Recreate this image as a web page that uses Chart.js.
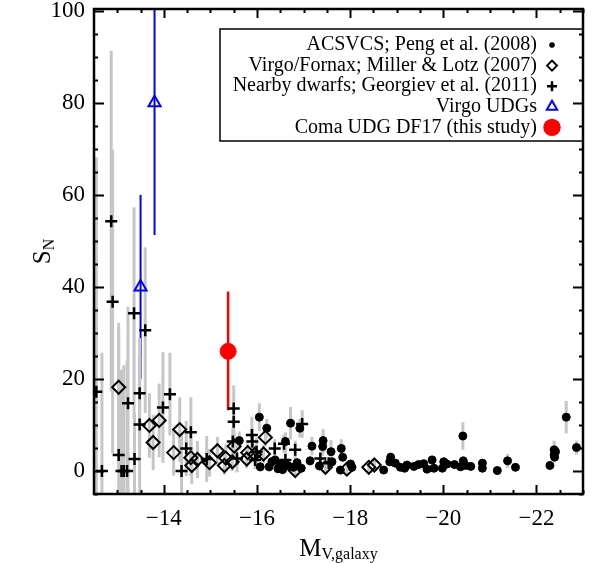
<!DOCTYPE html>
<html>
<head>
<meta charset="utf-8">
<script src="https://cdn.jsdelivr.net/npm/chart.js@4.4.1/dist/chart.umd.min.js"></script>
<style>
  html, body { margin: 0; padding: 0; background: #fff; }
  canvas { display: block; }
</style>
</head>
<body>
<canvas id="grafico" width="592" height="563"></canvas>
<script>
// tick labels
const xTicks = [-14, -16, -18, -20, -22];
const yTicks = [0, 20, 40, 60, 80, 100];

// ACSVCS; Peng et al. (2008)
const acsMv = [-15.62, -16.05, -16.21, -16.07, -16.26, -16.32, -16.39, -16.45, -16.50, -16.55,
  -16.61, -16.66, -16.72, -16.78, -16.86, -16.92, -16.95, -17.14, -17.18, -17.34,
  -17.41, -17.42, -17.59, -17.61, -17.79, -17.81, -17.84, -18.01, -18.04, -18.72,
  -18.85, -18.87, -18.97, -19.08, -19.17, -19.22, -19.37, -19.47, -19.58, -19.65,
  -19.76, -19.80, -19.98, -20.01, -20.08, -20.24, -20.37, -20.42, -20.43, -20.48,
  -20.59, -20.84, -20.84, -21.16, -21.38, -21.55, -22.29, -22.38, -22.41, -22.38,
  -22.39, -22.64, -22.86];
const acsSn = [6.6, 11.7, 9.3, 0.9, 0.9, 2.0, 2.4, 0.5, 1.5, 0.3,
  6.4, 1.2, 10.4, 0.8, 1.8, 9.3, 0.6, 2.2, 5.4, 1.1,
  5.3, 6.6, 4.2, 2.0, 0.2, 4.9, 3.0, 1.5, 0.8, 0.2,
  2.0, 3.0, 1.7, 0.8, 0.6, 1.3, 1.0, 1.4, 1.6, 0.4,
  2.4, 0.6, 0.6, 2.0, 1.5, 1.4, 0.9, 7.6, 2.2, 1.2,
  1.0, 1.7, 0.6, 0.1, 2.2, 0.8, 1.2, 4.6, 4.2, 3.5,
  3.0, 11.7, 5.1];
const acsErr = [2, 3, 2, 1, 1, 1, 1, 1, 1, 1,
  2, 1, 3.5, 1, 1, 2, 1, 1, 2, 1,
  2, 2.5, 2.5, 1, 1, 2, 1, 1, 1, 0.5,
  1, 1, 0.5, 0.5, 0.5, 0.5, 0.5, 0.5, 0.5, 0.5,
  1, 0.5, 0.5, 1, 0.5, 0.5, 0.5, 3, 1, 0.5,
  0.5, 0.5, 0.5, 0.5, 1.5, 0.5, 0.5, 2, 1, 1,
  1, 3.5, 1.5];

// Virgo/Fornax; Miller & Lotz (2007)
const mlMv = [-13.03, -13.69, -13.90, -13.77, -14.34, -14.21, -14.58, -14.72, -14.60, -14.98,
  -15.15, -15.33, -15.30, -15.47, -15.51, -15.80, -15.78, -15.95, -16.14, -16.18,
  -16.82, -17.47, -17.93, -18.40, -18.52];
const mlSn = [18.2, 9.9, 11.0, 6.2, 9.0, 4.0, 2.9, 2.5, 1.2, 1.8,
  4.4, 2.8, 1.2, 2.0, 5.4, 4.0, 2.6, 3.6, 3.7, 7.3,
  0.1, 0.8, 0.4, 0.8, 1.3];
const mlErr = [14, 7, 8, 6, 7, 5, 4, 4, 4, 3,
  3, 3, 2, 2, 3, 2, 2, 2, 2, 2,
  1, 1, 1, 1, 1];

// Nearby dwarfs; Georgiev et al. (2011)
const geoMv = [-12.55, -12.67, -12.87, -12.90, -13.03, -13.09, -13.14, -13.21, -13.23, -13.36,
  -13.37, -13.48, -13.48, -13.60, -13.98, -14.13, -14.38, -14.48, -14.58, -14.92,
  -15.48, -15.50, -15.50, -15.57, -15.89, -15.90, -15.96, -15.99, -16.38, -16.58,
  -16.61, -16.82, -16.97, -17.36, -17.54];
const geoSn = [17.2, 0, 54.3, 36.8, 3.5, 0, 0, 0, 14.7, 34.3,
  2.6, 16.9, 10.1, 30.6, 13.8, 16.7, 0, 4.9, 8.4, 2.6,
  6.4, 10.7, 13.6, 2.7, 7.8, 6.4, 2.4, 4.2, 4.9, 5.9,
  2.4, 4.6, 10.2, 2.7, 1.7];
const geoErr = [51, 25.7, 37, 33, 27, 22, 23, 24, 21, 23,
  10, 12, 15, 18, 12, 9, 8, 6, 7.6, 5,
  3, 3, 5, 3, 4, 3, 2, 3, 2, 2,
  2, 2, 3, 1, 1];

// Virgo UDGs
const udgMv = [-13.50, -13.80];
const udgSn = [40, 80];
const udgErrLo = [20, 28.7];
const udgErrHi = [20, 32];

// Coma UDG DF17 (this study)
const df17Mv = [-15.38];
const df17Sn = [26];
const df17ErrLo = [12.8];
const df17ErrHi = [13];

function pts(xs, ys) {
  return xs.map((v, i) => ({ x: v, y: ys[i] }));
}

const serif = '"Liberation Serif", "Times New Roman", serif';

// error bars under the markers
const errorBars = {
  id: 'errorBars',
  beforeDatasetsDraw(chart) {
    const { ctx, chartArea: a, scales: { x, y } } = chart;
    ctx.save();
    ctx.beginPath();
    ctx.rect(a.left, a.top, a.right - a.left, a.bottom - a.top);
    ctx.clip();
    const list = chart.data.datasets.slice().reverse();
    list.forEach(ds => {
      if (!ds.errLo) return;
      ctx.strokeStyle = ds.errColor;
      ctx.lineWidth = ds.errWidth;
      ds.data.forEach((p, i) => {
        const px = x.getPixelForValue(p.x);
        ctx.beginPath();
        ctx.moveTo(px, y.getPixelForValue(p.y - ds.errLo[i]));
        ctx.lineTo(px, y.getPixelForValue(p.y + ds.errHi[i]));
        ctx.stroke();
      });
    });
    ctx.restore();
  }
};

function drawSymbol(ctx, ds, cx, cy, r) {
  ctx.save();
  ctx.lineWidth = ds.borderWidth;
  ctx.strokeStyle = ds.borderColor;
  ctx.fillStyle = ds.backgroundColor;
  ctx.beginPath();
  if (ds.pointStyle === 'circle') {
    ctx.arc(cx, cy, r, 0, Math.PI * 2);
    ctx.fill();
  } else if (ds.pointStyle === 'rectRot') {
    ctx.moveTo(cx - r, cy); ctx.lineTo(cx, cy - r); ctx.lineTo(cx + r, cy); ctx.lineTo(cx, cy + r);
    ctx.closePath();
    ctx.stroke();
  } else if (ds.pointStyle === 'cross') {
    ctx.moveTo(cx - r, cy); ctx.lineTo(cx + r, cy);
    ctx.moveTo(cx, cy - r); ctx.lineTo(cx, cy + r);
    ctx.stroke();
  } else if (ds.pointStyle === 'triangle') {
    for (let k = 0; k < 3; k++) {
      const ang = k * 2 * Math.PI / 3;
      const px = cx + Math.sin(ang) * r, py = cy - Math.cos(ang) * r;
      k === 0 ? ctx.moveTo(px, py) : ctx.lineTo(px, py);
    }
    ctx.closePath();
    ctx.stroke();
  }
  ctx.restore();
}

// frame with inward ticks, axis titles with subscripts, legend
const frame = {
  id: 'frame',
  afterDraw(chart) {
    const { ctx, chartArea: a, scales: { x, y } } = chart;
    ctx.save();
    ctx.strokeStyle = '#000';
    ctx.lineWidth = 2;
    ctx.beginPath();
    for (let v = -13; v >= -23; v -= 0.5) {
      const p = Math.round(x.getPixelForValue(v)) + 0.5;
      const len = xTicks.includes(v) ? 9 : 4;
      ctx.moveTo(p, a.bottom); ctx.lineTo(p, a.bottom - len);
      ctx.moveTo(p, a.top); ctx.lineTo(p, a.top + len);
    }
    for (let v = -5; v <= 100; v += 5) {
      const p = Math.round(y.getPixelForValue(v)) + 0.5;
      const len = yTicks.includes(v) ? 10 : 4;
      ctx.moveTo(a.left, p); ctx.lineTo(a.left + len, p);
      ctx.moveTo(a.right, p); ctx.lineTo(a.right - len, p);
    }
    ctx.stroke();
    ctx.lineWidth = 2.5;
    ctx.strokeRect(a.left, a.top, a.right - a.left, a.bottom - a.top);

    // x title: M_V,galaxy
    ctx.fillStyle = '#000';
    ctx.textBaseline = 'alphabetic';
    ctx.textAlign = 'left';
    ctx.font = '25px ' + serif;
    const wM = ctx.measureText('M').width;
    ctx.font = '16px ' + serif;
    const wS = ctx.measureText('V,galaxy').width;
    let sx = (a.left + a.right) / 2 - (wM + wS) / 2;
    ctx.font = '25px ' + serif;
    ctx.fillText('M', sx, 556);
    ctx.font = '16px ' + serif;
    ctx.fillText('V,galaxy', sx + wM, 559);

    // y title: S_N
    ctx.save();
    ctx.translate(50, (a.top + a.bottom) / 2);
    ctx.rotate(-Math.PI / 2);
    ctx.font = '25px ' + serif;
    const wSS = ctx.measureText('S').width;
    ctx.font = '16px ' + serif;
    const wN = ctx.measureText('N').width;
    const st = -(wSS + wN) / 2;
    ctx.font = '25px ' + serif;
    ctx.fillText('S', st, 0);
    ctx.font = '16px ' + serif;
    ctx.fillText('N', st + wSS, 4);
    ctx.restore();

    // legend
    const box = { left: 220, top: 29, right: 583, bottom: 141 };
    ctx.lineWidth = 1.5;
    ctx.strokeRect(box.left, box.top, box.right - box.left, box.bottom - box.top);
    ctx.font = '20px ' + serif;
    ctx.textAlign = 'right';
    ctx.textBaseline = 'middle';
    chart.data.datasets.forEach((ds, i) => {
      const cy = 45 + i * 20.6;
      ctx.fillStyle = '#000';
      ctx.fillText(ds.label, 537, cy);
      drawSymbol(ctx, ds, 552, cy, ds.legendSize);
    });
    ctx.restore();
  }
};

const ctx = document.getElementById('grafico').getContext('2d');

new Chart(ctx, {
  type: 'scatter',
  data: {
    datasets: [
      {
        label: 'ACSVCS; Peng et al. (2008)',
        data: pts(acsMv, acsSn),
        errLo: acsErr, errHi: acsErr, errColor: '#c6c6c6', errWidth: 3,
        pointStyle: 'circle', pointRadius: 4, borderWidth: 1,
        backgroundColor: '#000', borderColor: '#000',
        legendSize: 2.8, order: 5
      },
      {
        label: 'Virgo/Fornax; Miller & Lotz (2007)',
        data: pts(mlMv, mlSn),
        errLo: mlErr, errHi: mlErr, errColor: '#c6c6c6', errWidth: 3,
        pointStyle: 'rectRot', pointRadius: 6.5, borderWidth: 2,
        backgroundColor: 'rgba(0,0,0,0)', borderColor: '#000',
        legendSize: 5, order: 4
      },
      {
        label: 'Nearby dwarfs; Georgiev et al. (2011)',
        data: pts(geoMv, geoSn),
        errLo: geoErr, errHi: geoErr, errColor: '#c6c6c6', errWidth: 3,
        pointStyle: 'cross', pointRadius: 6, borderWidth: 2.5,
        backgroundColor: '#000', borderColor: '#000',
        legendSize: 5, order: 3
      },
      {
        label: 'Virgo UDGs',
        data: pts(udgMv, udgSn),
        errLo: udgErrLo, errHi: udgErrHi, errColor: '#0000ff', errWidth: 2,
        pointStyle: 'triangle', pointRadius: 7, borderWidth: 2,
        backgroundColor: 'rgba(0,0,0,0)', borderColor: '#0000ff',
        legendSize: 6, order: 2
      },
      {
        label: 'Coma UDG DF17 (this study)',
        data: pts(df17Mv, df17Sn),
        errLo: df17ErrLo, errHi: df17ErrHi, errColor: '#ff0000', errWidth: 2.5,
        pointStyle: 'circle', pointRadius: 8, borderWidth: 1,
        backgroundColor: '#ff0000', borderColor: '#ff0000',
        legendSize: 8.7, order: 1
      }
    ]
  },
  options: {
    responsive: false,
    animation: false,
    events: [],
    layout: { padding: { left: 0, right: 7, top: 9, bottom: 0 } },
    plugins: {
      legend: { display: false },
      tooltip: { enabled: false }
    },
    scales: {
      x: {
        type: 'linear',
        min: -23, max: -12.5,
        reverse: true,
        border: { display: false },
        grid: { display: false, drawTicks: false },
        afterBuildTicks: s => { s.ticks = xTicks.map(v => ({ value: v })); },
        afterFit: s => { s.height = 69; s.paddingLeft = 0; s.paddingRight = 0; },
        ticks: {
          padding: 11,
          color: '#000',
          font: { family: serif, size: 23 },
          maxRotation: 0,
          callback: v => (v < 0 ? '\u2212' + Math.abs(v) : String(v))
        }
      },
      y: {
        type: 'linear',
        min: -5, max: 100.4,
        border: { display: false },
        grid: { display: false, drawTicks: false },
        afterBuildTicks: s => { s.ticks = yTicks.map(v => ({ value: v })); },
        afterFit: s => { s.width = 94; s.paddingTop = 0; s.paddingBottom = 0; },
        ticks: {
          padding: 9,
          color: '#000',
          font: { family: serif, size: 23 }
        }
      }
    }
  },
  plugins: [errorBars, frame]
});
</script>
</body>
</html>
